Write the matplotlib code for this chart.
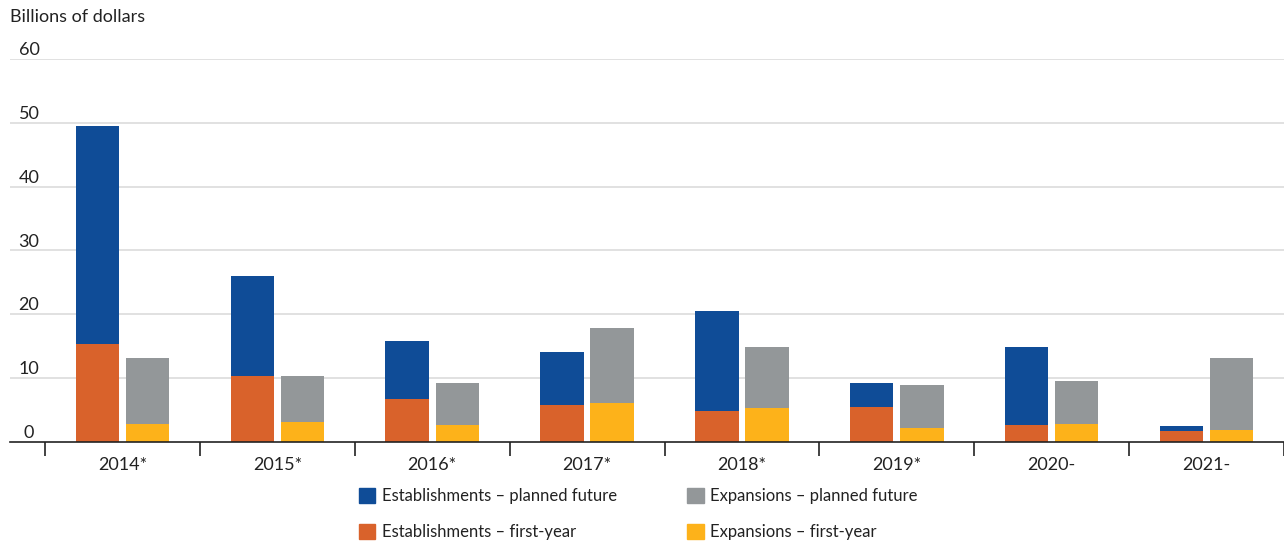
import numpy as np
import matplotlib.pyplot as plt
from matplotlib.patches import Patch
from matplotlib.transforms import blended_transform_factory

plt.rcParams["font.family"] = ["Lato", "DejaVu Sans"]

# dados (bilhoes de dolares)
anos = ["2014*", "2015*", "2016*", "2017*", "2018*", "2019*", "2020-", "2021-"]
est_primeiro = [15.3, 10.2, 6.7, 5.8, 4.8, 5.4, 2.6, 1.6]
est_total = [49.5, 26.0, 15.7, 14.05, 20.5, 9.2, 14.9, 2.5]
exp_primeiro = [2.7, 3.1, 2.6, 6.0, 5.3, 2.1, 2.75, 1.8]
exp_total = [13.1, 10.2, 9.2, 17.8, 14.8, 8.8, 9.5, 13.1]
y_ticks = [0, 10, 20, 30, 40, 50, 60]

# Cores
COR_EST_FUT = "#0f4c97"
COR_EST_1 = "#d9622b"
COR_EXP_FUT = "#939799"
COR_EXP_1 = "#fdb21a"

est_futuro = [t - p for t, p in zip(est_total, est_primeiro)]
exp_futuro = [t - p for t, p in zip(exp_total, exp_primeiro)]

fig = plt.figure(figsize=(12.84, 5.42), dpi=100)
ax = fig.add_axes([10 / 1284, 1 - 441.5 / 542, 1 - 10 / 1284, (441.5 - 59) / 542])

x = np.arange(len(anos))
w = 0.28
off = 0.162
ax.bar(x - off, est_primeiro, w, color=COR_EST_1, zorder=3)
ax.bar(x - off, est_futuro, w, bottom=est_primeiro, color=COR_EST_FUT, zorder=3)
ax.bar(x + off, exp_primeiro, w, color=COR_EXP_1, zorder=3)
ax.bar(x + off, exp_futuro, w, bottom=exp_primeiro, color=COR_EXP_FUT, zorder=3)

ax.set_xlim(-0.726, 7.5)
ax.set_ylim(0, 60)

for s in ["top", "right", "left"]:
    ax.spines[s].set_visible(False)
ax.spines["bottom"].set_color("#222222")
ax.spines["bottom"].set_linewidth(1.2)
ax.spines["bottom"].set_zorder(4)

# grade horizontal
for v in y_ticks[1:]:
    ax.axhline(v, color="#dcdcdc", linewidth=1.2, zorder=1)
ax.set_yticks([])

# rotulos do eixo y acima das linhas
tr = blended_transform_factory(ax.transAxes, ax.transData)
for v in y_ticks:
    ax.text(19 / 1274, v + 0.1, str(v), transform=tr, ha="center", va="bottom",
            fontsize=13, color="#222222")

# marcas entre os grupos
ax.set_xticks(np.arange(-0.5, 8.0, 1.0), minor=True)
ax.tick_params(axis="x", which="minor", length=10, width=1.2, color="#222222", direction="out")
ax.set_xticks(x)
ax.set_xticklabels(anos, fontsize=13, color="#222222")
ax.tick_params(axis="x", which="major", length=0, pad=11)

fig.text(10 / 1284, 1 - 17 / 542, "Billions of dollars", ha="left", va="center",
         fontsize=13, color="#222222")

handles = [
    Patch(color=COR_EST_FUT, label="Establishments \u2013 planned future"),
    Patch(color=COR_EST_1, label="Establishments \u2013 first-year"),
    Patch(color=COR_EXP_FUT, label="Expansions \u2013 planned future"),
    Patch(color=COR_EXP_1, label="Expansions \u2013 first-year"),
]
fig.legend(handles=handles, ncol=2, loc="center", bbox_to_anchor=(0.497, 1 - 514 / 542),
           frameon=False, fontsize=12, handlelength=1.0, handleheight=1.0,
           handletextpad=0.4, columnspacing=4.2, labelspacing=1.15,
           labelcolor="#222222")

fig.savefig("out.png", dpi=100)
